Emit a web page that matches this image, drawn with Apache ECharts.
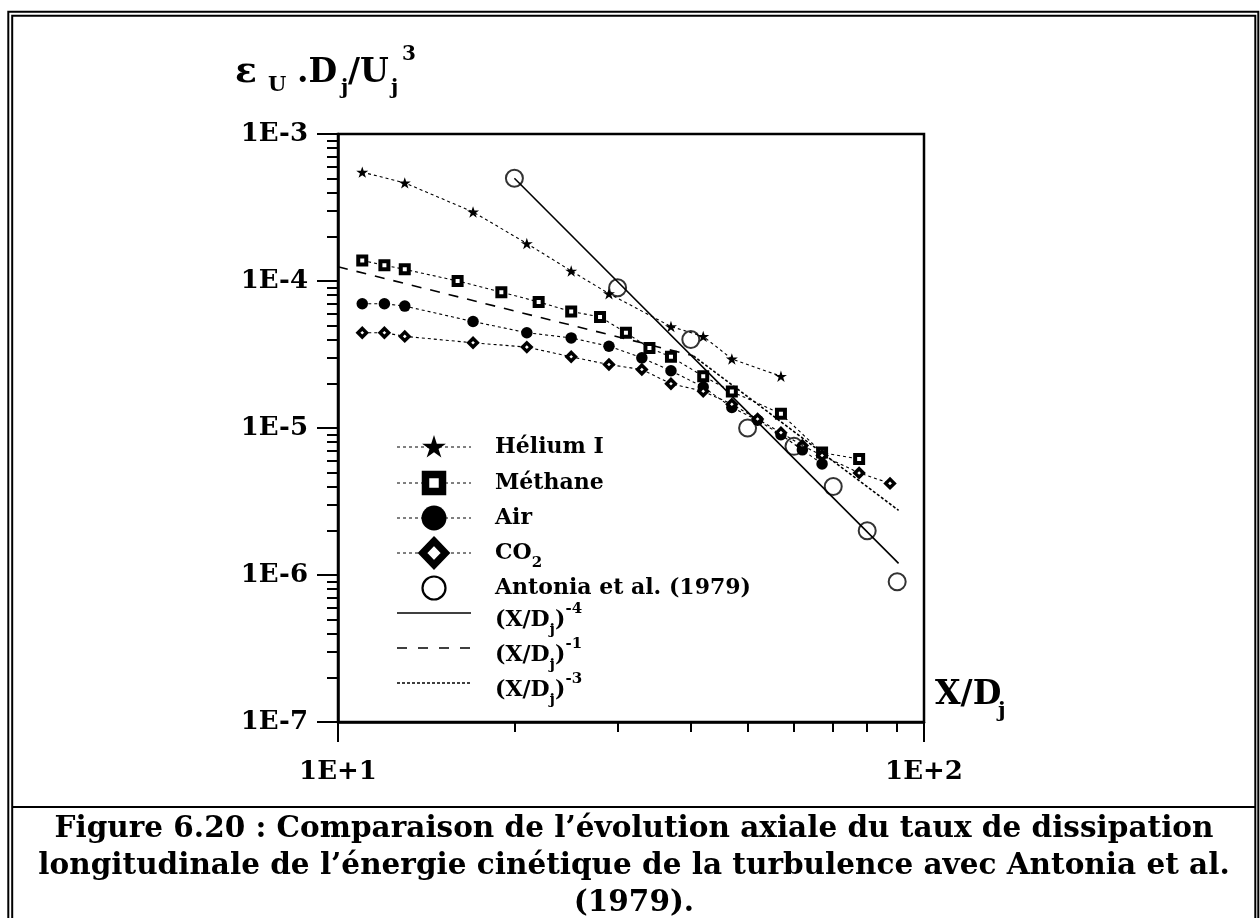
<!DOCTYPE html>
<html><head><meta charset="utf-8">
<script src="https://cdn.jsdelivr.net/npm/echarts@6/dist/echarts.min.js"></script>
<style>html,body{margin:0;padding:0;background:#fff}#c{width:1260px;height:918px}</style>
</head><body><div id="c"></div>
<script>
// ---- data ----
const helX = [11, 13, 17, 21, 25, 29, 37, 42, 47, 57];
const helY = [5.5e-4, 4.65e-4, 2.95e-4, 1.8e-4, 1.17e-4, 8.2e-5, 4.9e-5, 4.2e-5, 2.95e-5, 2.25e-5];
const metX = [11, 12, 13, 16, 19, 22, 25, 28, 31, 34, 37, 42, 47, 57, 67, 77.5];
const metY = [1.38e-4, 1.28e-4, 1.2e-4, 1.0e-4, 8.4e-5, 7.2e-5, 6.2e-5, 5.7e-5, 4.45e-5, 3.5e-5, 3.05e-5, 2.25e-5, 1.77e-5, 1.25e-5, 6.8e-6, 6.15e-6];
const airX = [11, 12, 13, 17, 21, 25, 29, 33, 37, 42, 47, 52, 57, 62, 67];
const airY = [7.0e-5, 7.0e-5, 6.75e-5, 5.3e-5, 4.45e-5, 4.1e-5, 3.6e-5, 3.0e-5, 2.45e-5, 1.9e-5, 1.38e-5, 1.13e-5, 9.0e-6, 7.1e-6, 5.7e-6];
const co2X = [11, 12, 13, 17, 21, 25, 29, 33, 37, 42, 47, 52, 57, 62, 67, 77.5, 87.5];
const co2Y = [4.45e-5, 4.45e-5, 4.2e-5, 3.8e-5, 3.55e-5, 3.05e-5, 2.7e-5, 2.5e-5, 2.0e-5, 1.78e-5, 1.45e-5, 1.15e-5, 9.3e-6, 7.6e-6, 6.5e-6, 4.95e-6, 4.2e-6];
const antX = [20, 30, 40, 50, 60, 70, 80, 90];
const antY = [5e-4, 9e-5, 4e-5, 1e-5, 7.5e-6, 4e-6, 2e-6, 9e-7];
const p4X = [20, 90.5];   const p4Y = [5e-4, 1.2e-6];
const p1X = [10, 40.4];   const p1Y = [1.25e-4, 3.1e-5];
const p3X = [40.4, 90.5]; const p3Y = [3.1e-5, 2.75e-6];

const xMajor = [10, 100];
const xMinor = [20, 30, 40, 50, 60, 70, 80, 90];
const yMajor = [1e-7, 1e-6, 1e-5, 1e-4, 1e-3];
const yMinorMult = [2, 3, 4, 5, 6, 7, 8, 9];
const xTickLabels = {10: '1E+1', 100: '1E+2'};
const yTickLabels = ['1E-7', '1E-6', '1E-5', '1E-4', '1E-3'];

const legendNames = ['Hélium I', 'Méthane', 'Air', 'CO2', 'Antonia et al. (1979)', '(X/Dj)-4', '(X/Dj)-1', '(X/Dj)-3'];
const captionLines = [
  'Figure 6.20 : Comparaison de l\u2019évolution axiale du taux de dissipation',
  'longitudinale de l\u2019énergie cinétique de la turbulence avec Antonia et al.',
  '(1979).'
];

// ---- helpers ----
const FONT = 'DejaVu Serif';
const zip = (xs, ys) => xs.map((x, i) => [x, ys[i]]);
const yMinor = [];
yMajor.slice(0, -1).forEach(d => yMinorMult.forEach(m => yMinor.push(d * m)));
const STAR_PTS = [[50,0],[61.23,34.55],[97.55,34.55],[68.16,55.9],[79.39,90.45],[50,69.1],[20.61,90.45],[31.84,55.9],[2.45,34.55],[38.77,34.55]];
const STAR = 'path://M' + STAR_PTS.map(p => p.join(' ')).join(' L') + ' Z';

const dataLine = {color: '#000', width: 1.1, type: [3, 3]};

function baseX(extra) {
  return Object.assign({
    type: 'log', logBase: 10, min: 10, max: 100, position: 'bottom',
    axisLine: {show: false, onZero: false},
    splitLine: {show: false}, minorTick: {show: false}, minorSplitLine: {show: false}
  }, extra);
}
function baseY(extra) {
  return Object.assign({
    type: 'log', logBase: 10, min: 1e-7, max: 1e-3, position: 'left',
    axisLine: {show: false, onZero: false},
    splitLine: {show: false}, minorTick: {show: false}, minorSplitLine: {show: false}
  }, extra);
}
const bold = (size) => 'bold ' + size + 'px "' + FONT + '"';

// ---- legend (drawn as graphics) ----
const LX1 = 397, LX2 = 471, LMX = 434, LTX = 495;
const rowY = [447, 483, 518, 553, 588, 613, 648, 683];
const rich = {
  b: {fontFamily: FONT, fontWeight: 'bold', fontSize: 22, lineHeight: 36, verticalAlign: 'middle'},
  s: {fontFamily: FONT, fontWeight: 'bold', fontSize: 15, lineHeight: 15, verticalAlign: 'bottom'},
  p: {fontFamily: FONT, fontWeight: 'bold', fontSize: 15, lineHeight: 15, verticalAlign: 'top'}
};
function richLabel(name) {
  if (name === 'CO2') return '{b|CO}{s|2}';
  const m = name.match(/^\(X\/Dj\)(-\d)$/);
  if (m) return '{b|(X/D}{s|j}{b|)}{p|' + m[1] + '}';
  return '{b|' + name + '}';
}
const g = [];
const lineStyles = [
  {lineDash: [3, 3], lineWidth: 1}, {lineDash: [3, 3], lineWidth: 1}, {lineDash: [3, 3], lineWidth: 1}, {lineDash: [3, 3], lineWidth: 1},
  null, {lineWidth: 1.5}, {lineDash: [10, 11], lineWidth: 1.5}, {lineDash: [3, 2], lineWidth: 1.5}
];
legendNames.forEach((name, i) => {
  const y = rowY[i];
  if (lineStyles[i]) {
    g.push({type: 'line', shape: {x1: LX1, y1: y, x2: LX2, y2: y}, style: Object.assign({stroke: '#000'}, lineStyles[i]), z: 10});
  }
  g.push({type: 'text', x: LTX, y: i >= 5 ? y + 7 : y, style: {text: richLabel(name), rich: rich, fill: '#000', verticalAlign: 'middle', align: 'left'}, z: 10});
});
g.push({type: 'polygon', shape: {points: STAR_PTS.map(p => [LMX - 12.5 + p[0] * 0.25, rowY[0] - 12 + p[1] * 0.25])}, style: {fill: '#000'}, z: 11});
g.push({type: 'rect', shape: {x: LMX - 8.5, y: rowY[1] - 8.5, width: 17, height: 17}, style: {fill: '#fff', stroke: '#000', lineWidth: 7.5}, z: 11});
g.push({type: 'circle', shape: {cx: LMX, cy: rowY[2], r: 12.5}, style: {fill: '#000'}, z: 11});
g.push({type: 'polygon', shape: {points: [[LMX, rowY[3] - 12], [LMX + 11.5, rowY[3]], [LMX, rowY[3] + 12], [LMX - 11.5, rowY[3]]]}, style: {fill: '#fff', stroke: '#000', lineWidth: 7}, z: 11});
g.push({type: 'circle', shape: {cx: LMX, cy: rowY[4], r: 11.5}, style: {fill: 'none', stroke: '#000', lineWidth: 2.2}, z: 11});

// y-axis title  ε U .Dj/Uj^3  (pieces placed individually)
const yTitle = [
  ['ε', 235, 73, 36], ['U', 268, 86, 21], ['.D', 297, 73, 33], ['j', 341, 89, 20],
  ['/U', 348, 73, 33], ['j', 391, 89, 20], ['3', 402, 55, 20]
];
yTitle.forEach(([t, x, y, fs]) => g.push({type: 'text', x: x, y: y, style: {text: t, font: bold(fs), fill: '#000', align: 'left', verticalAlign: 'middle'}}));
// x-axis title X/Dj
g.push({type: 'text', x: 935, y: 695, style: {text: 'X/D', font: bold(33), fill: '#000', align: 'left', verticalAlign: 'middle'}});
g.push({type: 'text', x: 998, y: 712, style: {text: 'j', font: bold(21), fill: '#000', align: 'left', verticalAlign: 'middle'}});

// caption
const capY = [829, 866, 903];
captionLines.forEach((t, i) => g.push({type: 'text', x: 634, y: capY[i], style: {text: t, fill: '#000', font: bold(29.5), align: 'center', verticalAlign: 'middle'}}));

// frame
g.push({type: 'rect', shape: {x: 8.3, y: 11.8, width: 1250, height: 940}, style: {fill: 'none', stroke: '#000', lineWidth: 2}});
g.push({type: 'rect', shape: {x: 12.2, y: 15.8, width: 1243.1, height: 940}, style: {fill: 'none', stroke: '#000', lineWidth: 2}});
g.push({type: 'line', shape: {x1: 12.2, y1: 807, x2: 1255.3, y2: 807}, style: {stroke: '#000', lineWidth: 2}});

const chart = echarts.init(document.getElementById('c'), null, {renderer: 'canvas'});
chart.setOption({
  animation: false,
  backgroundColor: '#fff',
  grid: {left: 338, top: 134, width: 586, height: 588, show: true, borderColor: '#000', borderWidth: 2.5, backgroundColor: 'transparent'},
  xAxis: [
    baseX({
      axisLine: {show: true, onZero: false, lineStyle: {color: '#000', width: 2.5}},
      axisTick: {show: true, customValues: xMajor, length: 20, lineStyle: {color: '#000', width: 2}},
      axisLabel: {show: true, customValues: xMajor, formatter: v => xTickLabels[Math.round(v)],
        fontFamily: FONT, fontWeight: 'bold', fontSize: 26, color: '#000', margin: 37}
    }),
    baseX({
      axisTick: {show: true, customValues: xMinor, length: 10, lineStyle: {color: '#000', width: 2}},
      axisLabel: {show: false}
    })
  ],
  yAxis: [
    baseY({
      axisLine: {show: true, onZero: false, lineStyle: {color: '#000', width: 2.5}},
      axisTick: {show: true, customValues: yMajor, length: 21, lineStyle: {color: '#000', width: 2}},
      axisLabel: {show: true, customValues: yMajor, formatter: v => yTickLabels[Math.round(Math.log10(v)) + 7],
        fontFamily: FONT, fontWeight: 'bold', fontSize: 26, color: '#000', margin: 30}
    }),
    baseY({
      axisTick: {show: true, customValues: yMinor, length: 11, lineStyle: {color: '#000', width: 2}},
      axisLabel: {show: false}
    })
  ],
  series: [
    {name: '(X/Dj)-4', type: 'line', data: zip(p4X, p4Y), symbol: 'none', lineStyle: {color: '#000', width: 1.6}, z: 3},
    {name: '(X/Dj)-1', type: 'line', data: zip(p1X, p1Y), symbol: 'none', lineStyle: {color: '#000', width: 1.6, type: [10, 9]}, z: 3},
    {name: '(X/Dj)-3', type: 'line', data: zip(p3X, p3Y), symbol: 'none', lineStyle: {color: '#000', width: 1.6, type: [3, 2]}, z: 3},
    {name: 'Hélium I', type: 'line', data: zip(helX, helY), symbol: STAR, symbolSize: 12, symbolKeepAspect: true,
      itemStyle: {color: '#000'}, lineStyle: dataLine, z: 4},
    {name: 'Méthane', type: 'line', data: zip(metX, metY), symbol: 'rect', symbolSize: 8,
      itemStyle: {color: '#fff', borderColor: '#000', borderWidth: 4}, lineStyle: dataLine, z: 4},
    {name: 'Air', type: 'line', data: zip(airX, airY), symbol: 'circle', symbolSize: 11.5,
      itemStyle: {color: '#000'}, lineStyle: dataLine, z: 4},
    {name: 'CO2', type: 'line', data: zip(co2X, co2Y), symbol: 'diamond', symbolSize: 8.5,
      itemStyle: {color: '#fff', borderColor: '#000', borderWidth: 3.5}, lineStyle: dataLine, z: 4},
    {name: 'Antonia et al. (1979)', type: 'scatter', data: zip(antX, antY), symbol: 'circle', symbolSize: 17,
      itemStyle: {color: 'rgba(0,0,0,0)', borderColor: '#000', borderWidth: 2}, z: 5}
  ],
  graphic: g
});
</script></body></html>
